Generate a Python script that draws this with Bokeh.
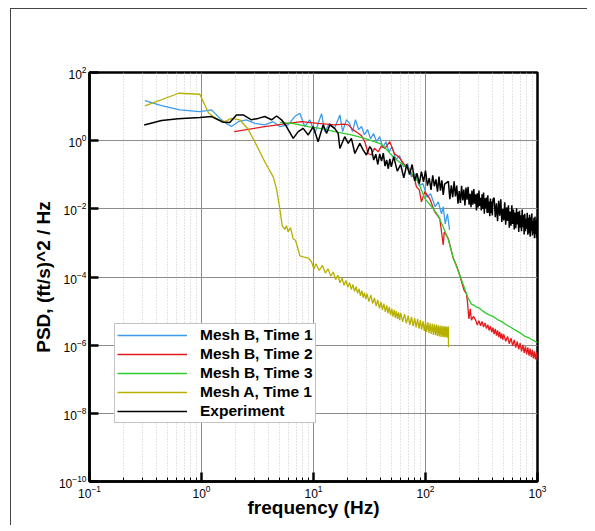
from bokeh.plotting import figure
from bokeh.models import FixedTicker, Legend
from bokeh.embed import file_html
from bokeh.resources import INLINE

# ---------------- data ----------------
x_major_ticks = [0.1, 1, 10, 100, 1000]
x_minor_ticks = [0.2, 0.3, 0.4, 0.5, 0.6, 0.7, 0.8, 0.9,
                 2, 3, 4, 5, 6, 7, 8, 9,
                 20, 30, 40, 50, 60, 70, 80, 90,
                 200, 300, 400, 500, 600, 700, 800, 900]
y_major_ticks = [1e-10, 1e-8, 1e-6, 1e-4, 1e-2, 1, 100]

series_names = ["Mesh B, Time 1", "Mesh B, Time 2", "Mesh B, Time 3",
                "Mesh A, Time 1", "Experiment"]

mesh_b_t1_freq = [0.312, 0.44, 0.64, 0.965, 1.23, 1.46, 1.67, 1.85, 2.13, 2.52,
                  2.99, 3.67, 4.37, 5.0, 5.94, 6.8, 7.55, 8.36, 9.26, 10.3,
                  11.0, 11.8, 12.6, 13.9, 15.4, 17.2, 18.2, 19.7,
                  21, 22.3, 23.7, 25.3, 26.8, 28.5, 30.4, 32.3, 34.4, 36.6,
                  39, 41.6, 44.3, 47.2, 50.2, 54.4, 58.7, 63.6, 69, 74.8,
                  81, 87.7, 95, 103, 111, 122, 130, 139, 144, 150, 157, 164]
mesh_b_t1_psd = [15, 10.7, 8.0, 7.1, 8.0, 4.5, 3.2, 2.6, 3.6, 4.1,
                 3.2, 2.9, 3.6, 2.6, 2.9, 5.1, 6.4, 2.6, 4.1, 1.64,
                 3.2, 6.2, 1.84, 3.2, 2.3, 5.7, 1.84, 4.15,
                 3.2, 1.84, 4.15, 2.1, 2.6, 1.5, 2.1, 1.15, 1.6, 0.93,
                 1.31, 0.62, 0.93, 0.47, 0.67, 0.28, 0.36, 0.17, 0.21, 0.087,
                 0.107, 0.048, 0.055, 0.022, 0.028, 0.0115, 0.016, 0.0071, 0.0115, 0.0036, 0.0071, 0.0024]

mesh_b_t2_freq = [1.96, 2.61, 3.67, 5.54, 7.8, 11.0, 15.5, 18.5, 20.4, 22.6,
                  24.7, 26.8, 28.7, 30.8, 32.9, 35, 37.8, 40.5, 43.4, 48,
                  52.9, 58, 65.3, 70, 75, 80, 83, 88, 92, 98.6,
                  109, 121, 134, 144, 147, 160, 177, 189, 202, 221,
                  232, 237, 244, 251, 257, 268, 276,
                  280, 290, 300, 310, 320, 330, 340, 350, 360, 370,
                  380, 390, 400, 410, 420, 430, 440, 450, 460, 470,
                  480, 490, 500, 520, 540, 560, 580, 600, 620, 640,
                  660, 680, 700, 720, 740, 760, 780, 800, 820, 840,
                  860, 880, 900, 920, 940, 960, 980, 1000]
mesh_b_t2_psd = [1.84, 2.15, 2.58, 3.1, 3.6, 3.2, 2.9, 3.06, 2.9, 2.07,
                 1.7, 1.4, 0.93, 0.42, 0.38, 0.6, 0.47, 0.7, 0.59, 0.93,
                 0.41, 0.33, 0.19, 0.16, 0.107, 0.075, 0.044, 0.036, 0.016, 0.032,
                 0.02, 8.1e-3, 5.2e-3, 8.7e-4, 2.1e-3, 1.34e-3, 3.5e-4, 2.2e-4, 1.12e-4, 4.1e-5,
                 3.2e-5, 1.84e-5, 5.9e-6, 1.17e-5, 5.4e-6, 7.0e-6, 5.9e-6,
                 5.5e-6, 3.9e-6, 5.25e-6, 3.7e-6, 4.95e-6, 3.4e-6, 4.5e-6, 3.05e-6, 4.0e-6, 2.7e-6,
                 3.6e-6, 2.4e-6, 3.25e-6, 2.1e-6, 3.0e-6, 1.9e-6, 2.7e-6, 1.72e-6, 2.45e-6, 1.56e-6,
                 2.2e-6, 1.44e-6, 2.07e-6, 1.3e-6, 1.8e-6, 1.1e-6, 1.6e-6, 9.6e-7, 1.42e-6, 8.5e-7,
                 1.28e-6, 7.5e-7, 1.14e-6, 6.6e-7, 1.02e-6, 5.9e-7, 9.2e-7, 5.4e-7, 8.6e-7, 4.9e-7,
                 7.9e-7, 4.5e-7, 7.3e-7, 4.1e-7, 6.6e-7, 3.8e-7, 6.1e-7, 3.5e-7]

mesh_b_t3_freq = [5.0, 6.63, 8.97, 11.8, 15.5, 21.8, 28.7, 40.5, 53.2, 70.1,
                  86.1, 98.6, 117, 130, 144, 160, 177, 202, 224, 240,
                  257, 270, 285, 300, 316, 340, 373, 400, 445, 480,
                  529, 570, 628, 700, 766, 850, 946, 1000]
mesh_b_t3_psd = [3.45, 3.16, 2.58, 2.25, 1.84, 1.47, 1.17, 0.79, 0.30, 0.153,
                 0.062, 0.020, 0.0102, 6.2e-3, 2.95e-3, 1.23e-3, 3.6e-4, 1.15e-4, 4.5e-5, 2.4e-5,
                 1.6e-5, 1.5e-5, 1.3e-5, 1.25e-5, 1.07e-5, 9.0e-6, 7.6e-6, 7.0e-6, 5.5e-6, 4.9e-6,
                 3.9e-6, 3.4e-6, 2.8e-6, 2.3e-6, 1.84e-6, 1.6e-6, 1.3e-6, 1.18e-6]

mesh_a_t1_freq = [0.312, 0.627, 0.965, 1.16, 1.41, 1.61, 1.85, 2.2, 2.6, 2.99,
                  3.67, 4.37, 4.67, 5.0, 5.25, 5.54, 5.74, 5.94, 6.24, 6.59,
                  6.9, 7.2, 7.55, 8.1, 9.0, 9.6, 10.1,
                  10.5, 11.25, 12.0, 12.75, 13.5, 14.25, 15, 15.75, 16.5, 17.25,
                  18, 18.75, 19.5, 20.25, 21, 21.75, 22.5, 23.25, 24, 24.75,
                  25.5, 26.25, 27, 27.75, 28.5, 29.25, 30,
                  31.25, 32.5, 33.75, 35, 36.25, 37.5, 38.75, 40, 41.25, 42.5,
                  43.75, 45, 46.25, 47.5, 48.75, 50, 51.25, 52.5, 53.75, 55,
                  56.25, 57.5, 58.75, 60,
                  62.5, 65, 67.5, 70, 72.5, 75, 77.5, 80, 82.5, 85,
                  87.5, 90, 92.5, 95, 97.5, 100, 102.5, 105, 107.5, 110,
                  112.5, 115, 117.5, 120, 122.5, 125, 127.5, 130, 132.5, 135,
                  137.5, 140, 142.5, 145, 147.5, 150, 152.5, 155, 157.5, 160, 160.5]
mesh_a_t1_psd = [10.5, 24.6, 23, 6.4, 4.1, 3.6, 4.5, 4.1, 2.2, 0.93,
                 0.24, 0.087, 0.039, 0.0102, 3.2e-3, 2.5e-3, 3.2e-3, 2.1e-3, 2.8e-3, 1.3e-3,
                 1.2e-3, 7.6e-4, 4.2e-4, 3.9e-4, 3.6e-4, 2.8e-4, 1.7e-4,
                 2.45e-4, 1.55e-4, 2.2e-4, 1.3e-4, 1.73e-4, 1.05e-4, 1.4e-4, 8.4e-5, 1.13e-4, 6.8e-5,
                 9.2e-5, 5.7e-5, 7.9e-5, 5.0e-5, 6.8e-5, 4.3e-5, 6.0e-5, 3.8e-5, 5.2e-5, 3.3e-5,
                 4.5e-5, 2.8e-5, 4.0e-5, 2.5e-5, 3.5e-5, 2.25e-5, 3.25e-5,
                 1.9e-5, 2.95e-5, 1.65e-5, 2.45e-5, 1.4e-5, 2.15e-5, 1.2e-5, 1.85e-5, 1.08e-5, 1.65e-5,
                 9.5e-6, 1.47e-5, 8.5e-6, 1.32e-5, 7.6e-6, 1.18e-5, 6.9e-6, 1.09e-5, 6.3e-6, 1.0e-5,
                 5.9e-6, 9.2e-6, 5.4e-6, 8.8e-6,
                 4.8e-6, 8.1e-6, 4.35e-6, 7.4e-6, 3.95e-6, 6.8e-6, 3.6e-6, 6.2e-6, 3.3e-6, 5.8e-6,
                 3.05e-6, 5.45e-6, 2.85e-6, 5.1e-6, 2.6e-6, 4.9e-6, 2.45e-6, 4.7e-6, 2.25e-6, 4.4e-6,
                 2.15e-6, 4.25e-6, 2.0e-6, 4.1e-6, 1.95e-6, 4.0e-6, 1.85e-6, 3.85e-6, 1.8e-6, 3.75e-6,
                 1.75e-6, 3.7e-6, 1.73e-6, 3.6e-6, 1.7e-6, 3.55e-6, 1.68e-6, 3.5e-6, 1.65e-6, 3.5e-6, 8.7e-7]

exp_freq = [0.308, 0.44, 0.62, 0.965, 1.23, 1.41, 1.56, 1.79, 2.05, 2.36,
            2.79, 3.21, 3.67, 4.22, 4.68, 5.18, 5.74, 6.59, 7.3, 8.09,
            8.97, 9.94, 11.0, 12.2, 13.1, 14.0, 15.5, 16.6, 17.2, 19.0,
            20.4, 21.8, 23.4, 25.9, 27.8, 29.7, 31.8,
            33, 34.5, 36, 37.5, 39, 40.5, 42, 43.5, 45, 46.5, 48, 49.5,
            52, 56, 60, 64, 68, 72, 76, 80, 84, 88,
            92, 96, 100, 104, 108, 112, 116, 120, 124, 128,
            132, 136, 140, 144, 148,
            160, 165, 170, 175, 180, 185, 190, 195, 200, 205,
            210, 215, 220, 225, 230, 235, 240, 245, 250, 255,
            260, 265, 270, 275, 280, 285, 290, 295, 300, 305,
            310, 315, 320, 325, 330, 335, 340, 345, 350, 355,
            360, 365, 370, 375, 380, 385, 390, 395, 400,
            410, 420, 430, 440, 450, 460, 470, 480, 490, 500,
            510, 520, 530, 540, 550, 560, 570, 580, 590, 600,
            610, 620, 630, 640, 650, 660, 670, 680, 690, 700,
            710, 720, 730, 740, 750, 760, 770, 780, 790, 800,
            810, 820, 830, 840, 850, 860, 870, 880, 890, 900,
            910, 920, 930, 940, 950, 960, 970, 980, 990, 1000]
exp_psd = [2.9, 3.9, 4.4, 4.8, 5.1, 4.1, 3.45, 3.4, 5.7, 5.7,
           4.1, 4.5, 5.1, 4.1, 5.3, 4.1, 2.6, 1.17, 1.84, 2.3,
           1.47, 2.6, 0.93, 2.9, 1.64, 2.9, 2.25, 1.64, 0.59, 1.31,
           0.83, 1.17, 0.42, 0.83, 0.53, 0.38, 0.67,
           0.56, 0.27, 0.40, 0.20, 0.41, 0.25, 0.43, 0.18, 0.27, 0.15, 0.29, 0.17,
           0.34, 0.128, 0.20, 0.081, 0.20, 0.102, 0.20, 0.066, 0.11, 0.055,
           0.123, 0.062, 0.133, 0.048, 0.080, 0.036, 0.096, 0.046, 0.073, 0.032,
           0.089, 0.034, 0.069, 0.0255, 0.053,
           0.064, 0.0193, 0.0486, 0.0218, 0.064, 0.0233, 0.0478, 0.0141, 0.0332, 0.0149,
           0.0474, 0.0178, 0.037, 0.0125, 0.0423, 0.0185, 0.044, 0.0133, 0.0277, 0.0112,
           0.0344, 0.0133, 0.0382, 0.0142, 0.0268, 0.009, 0.0287, 0.0109, 0.0342, 0.0122,
           0.021, 0.009, 0.0269, 0.0099, 0.0303, 0.0072, 0.0203, 0.0103, 0.0216, 0.0076,
           0.025, 0.0077, 0.0163, 0.0061, 0.0201, 0.0076, 0.0165, 0.0064, 0.0189,
           0.0211, 0.0057, 0.0146, 0.0043, 0.0173, 0.0063, 0.019, 0.0041, 0.0099, 0.0046,
           0.0155, 0.0034, 0.011, 0.0044, 0.0127, 0.0028, 0.0083, 0.0032, 0.0128, 0.0036,
           0.0095, 0.0025, 0.0078, 0.0027, 0.0104, 0.0035, 0.0081, 0.0021, 0.0087, 0.0028,
           0.0065, 0.0022, 0.0095, 0.0029, 0.0066, 0.00176, 0.0072, 0.0022, 0.0051, 0.0026,
           0.0077, 0.00173, 0.0055, 0.00193, 0.0067, 0.00153, 0.0057, 0.0022, 0.0073, 0.00166,
           0.0044, 0.00186, 0.0055, 0.00138, 0.0059, 0.00183, 0.0043, 0.0014, 0.0053, 0.0016]

series_colors = ["#3d9be9", "#e41a1c", "#2ecc2e", "#b8b000", "#000000"]
series_widths = [1.3, 1.3, 1.3, 1.3, 1.5]

# ---------------- figure ----------------
FONT = "Liberation Sans"

p = figure(width=577, height=517, x_axis_type="log", y_axis_type="log",
           x_range=(0.1, 1000), y_range=(1e-10, 100),
           output_backend="svg", toolbar_location=None,
           min_border_left=78, min_border_right=51,
           min_border_top=63, min_border_bottom=45,
           background_fill_color="white", border_fill_color="white")
p.margin = (8, 0, 0, 10)
p.styles = {"border-left": "1px solid #444", "border-top": "1px solid #444"}

p.outline_line_color = "black"
p.outline_line_width = 2.5

xax = p.xaxis[0]
yax = p.yaxis[0]
xax.ticker = FixedTicker(ticks=x_major_ticks, minor_ticks=x_minor_ticks)
yax.ticker = FixedTicker(ticks=y_major_ticks, minor_ticks=[])

for ax in (xax, yax):
    ax.axis_line_width = 2.5
    ax.axis_line_color = "black"
    ax.major_tick_in = 9
    ax.major_tick_out = 0
    ax.major_tick_line_width = 2.5
    ax.major_label_text_font = FONT
    ax.major_label_text_font_size = "12px"
    ax.major_label_text_color = "black"
    ax.axis_label_text_font = FONT
    ax.axis_label_text_font_style = "bold"
    ax.axis_label_text_font_size = "19px"
    ax.axis_label_text_color = "black"
    ax.major_label_standoff = 3

xax.minor_tick_in = 4
xax.minor_tick_out = 0
xax.minor_tick_line_width = 1
yax.minor_tick_line_color = None

xax.axis_label = "frequency (Hz)"
yax.axis_label = "PSD, (ft/s)^2 / Hz"
xax.axis_label_standoff = -4
yax.axis_label_standoff = 2

p.xgrid.grid_line_color = "#8c8c8c"
p.xgrid.grid_line_width = 1
p.xgrid.minor_grid_line_color = "#c8c8c8"
p.xgrid.minor_grid_line_dash = "1 2"
p.ygrid.grid_line_color = "#8c8c8c"
p.ygrid.grid_line_width = 1

freqs = [mesh_b_t1_freq, mesh_b_t2_freq, mesh_b_t3_freq, mesh_a_t1_freq, exp_freq]
psds = [mesh_b_t1_psd, mesh_b_t2_psd, mesh_b_t3_psd, mesh_a_t1_psd, exp_psd]

items = []
for name, fx, py, col, lw in zip(series_names, freqs, psds, series_colors, series_widths):
    r = p.line(fx, py, line_color=col, line_width=lw)
    items.append((name, [r]))

legend = Legend(items=items, location=(25, 58))
legend.margin = 0
legend.padding = 2
legend.spacing = 1
legend.glyph_width = 70
legend.glyph_height = 16
legend.label_height = 16
legend.label_standoff = 13
legend.label_text_font = FONT
legend.label_text_font_style = "bold"
legend.label_text_font_size = "15.5px"
legend.label_text_color = "black"
legend.border_line_color = "#888888"
legend.border_line_width = 1
legend.background_fill_color = "white"
legend.background_fill_alpha = 1.0
p.add_layout(legend, "center")

open("out.html", "w").write(file_html(p, INLINE))
